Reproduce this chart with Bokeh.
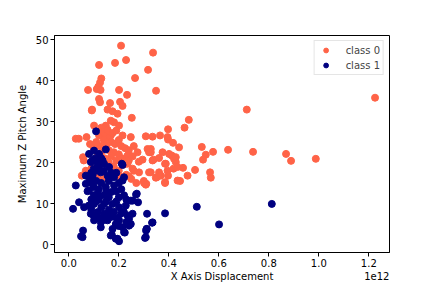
from bokeh.plotting import figure
from bokeh.models import Range1d, FixedTicker, CustomJSTickFormatter, LinearAxis, Legend, LegendItem
from bokeh.embed import file_html
from bokeh.resources import INLINE

X_SCALE = 1e12
X_TICKS = [0.0, 0.2, 0.4, 0.6, 0.8, 1.0, 1.2]
Y_TICKS = [0, 10, 20, 30, 40, 50]
LABELS = ["class 0", "class 1"]
X_LABEL = "X Axis Displacement"
Y_LABEL = "Maximum Z Pitch Angle"
OFFSET_TEXT = "1e12"

# class 0 (x in units of 1e12)
x0 = [0.209, 0.337, 0.121, 0.185, 0.229, 0.317, 0.265, 0.130, 0.125, 0.118, 0.112, 0.127, 0.077, 0.201, 0.349,
      0.233, 0.121, 0.125, 0.165, 0.205, 0.215, 0.155, 0.175, 0.093, 0.195, 0.252, 0.712, 0.480, 0.463, 0.397,
      0.335, 0.365, 0.395, 0.397, 0.417, 0.328, 0.328, 0.532, 0.637, 0.737, 0.869, 0.889, 0.577, 0.548, 0.537,
      0.339, 0.361, 0.385, 0.412, 0.421, 0.428, 0.419, 0.457, 0.505, 0.565, 0.568, 0.475, 0.445, 0.397, 0.385,
      0.348, 0.328, 1.225, 0.988,
      0.092, 0.181, 0.201, 0.148, 0.168, 0.101, 0.028, 0.040, 0.071, 0.121, 0.141, 0.168, 0.215, 0.248, 0.308,
      0.441, 0.275, 0.315, 0.321, 0.375, 0.401, 0.428, 0.295, 0.335, 0.388, 0.235, 0.235, 0.255, 0.281, 0.321,
      0.361, 0.395, 0.435,
      0.13, 0.14, 0.155, 0.16, 0.175, 0.19, 0.17, 0.185, 0.2, 0.21, 0.225, 0.14, 0.15, 0.125, 0.11, 0.16,
      0.18, 0.2, 0.215, 0.24, 0.26, 0.17, 0.19, 0.22, 0.24, 0.255, 0.13, 0.115, 0.1, 0.085, 0.145, 0.16,
      0.18, 0.2, 0.21, 0.23, 0.25, 0.1, 0.09, 0.08, 0.06, 0.11, 0.12, 0.26, 0.27, 0.3, 0.31, 0.28,
      0.057, 0.052, 0.068, 0.241, 0.201, 0.148, 0.301, 0.308, 0.352, 0.385, 0.435, 0.101, 0.368]
y0 = [48.5, 46.8, 43.8, 44.3, 45.0, 42.6, 40.6, 40.5, 39.5, 38.5, 37.9, 37.7, 37.7, 37.7, 37.5,
      36.5, 35.5, 34.7, 34.5, 34.8, 33.8, 32.9, 32.5, 32.9, 31.9, 30.9, 32.9, 30.4, 28.5, 28.1,
      26.3, 26.6, 26.2, 25.6, 24.8, 23.3, 22.5, 23.8, 23.1, 22.6, 22.1, 20.4, 22.6, 21.9, 20.7,
      20.7, 21.1, 19.7, 21.7, 20.9, 20.1, 18.5, 18.7, 18.2, 17.6, 16.3, 16.8, 15.5, 16.8, 15.2,
      16.3, 17.6, 35.8, 20.9,
      32.7, 29.8, 29.0, 29.0, 30.2, 29.0, 25.8, 25.8, 26.2, 26.6, 27.0, 26.6, 26.6, 26.2, 26.4,
      23.7, 22.5, 23.3, 22.5, 22.5, 22.1, 21.3, 20.7, 20.5, 19.7, 21.7, 19.7, 18.5, 17.6, 17.6,
      17.6, 18.0, 18.9,
      28.5, 27.5, 28.0, 26.0, 27.2, 27.8, 25.0, 24.5, 25.5, 24.0, 23.5, 25.5, 24.3, 24.0, 25.0, 23.0,
      22.5, 22.0, 21.0, 23.0, 24.0, 21.5, 20.5, 19.5, 20.5, 21.5, 22.5, 21.5, 23.5, 24.5, 21.0, 20.0,
      19.0, 18.0, 16.5, 17.0, 16.0, 20.5, 18.5, 16.5, 20.5, 17.5, 16.0, 18.0, 15.0, 15.5, 14.8, 20.2,
      21.3, 16.8, 18.0, 16.6, 16.4, 16.4, 15.0, 14.6, 16.4, 15.0, 15.6, 17.2, 16.8]

# class 1 (x in units of 1e12)
x1 = [0.109, 0.148, 0.215, 0.028, 0.017, 0.057, 0.049, 0.172, 0.188, 0.201, 0.224, 0.305, 0.311, 0.333, 0.313,
      0.385, 0.512, 0.601, 0.812, 0.269, 0.277, 0.248, 0.255, 0.241, 0.248,
      0.101, 0.121, 0.081, 0.088, 0.115, 0.135, 0.141, 0.161, 0.212, 0.221, 0.068, 0.095, 0.128, 0.155, 0.181,
      0.068, 0.081, 0.115, 0.148, 0.181, 0.215, 0.221, 0.255, 0.272, 0.235, 0.241, 0.215, 0.188, 0.155, 0.128,
      0.101, 0.088, 0.041, 0.061, 0.101, 0.141, 0.175, 0.201, 0.228, 0.208, 0.141, 0.115, 0.168, 0.128, 0.175,
      0.201, 0.055, 0.168, 0.195, 0.221, 0.335, 0.312, 0.308, 0.309,
      0.09, 0.1, 0.11, 0.12, 0.13, 0.14, 0.15, 0.16, 0.17, 0.19, 0.2, 0.21, 0.23, 0.09, 0.1, 0.11,
      0.12, 0.13, 0.15, 0.16, 0.18, 0.19, 0.22, 0.08, 0.09, 0.1, 0.12, 0.14, 0.16, 0.19, 0.2, 0.23,
      0.11, 0.12, 0.1, 0.13, 0.14, 0.16, 0.17, 0.19, 0.2, 0.105, 0.09, 0.075, 0.085, 0.095]
y1 = [27.6, 23.2, 19.4, 14.4, 8.7, 3.4, 2.0, 2.4, 1.4, 0.8, 2.9, 1.6, 3.8, 5.3, 7.5,
      7.6, 9.2, 4.9, 9.9, 12.2, 10.3, 10.7, 7.5, 6.3, 5.0,
      22.9, 22.1, 22.1, 20.1, 19.7, 20.5, 19.7, 18.9, 19.7, 16.4, 16.8, 16.8, 17.6, 16.8, 16.4,
      14.8, 13.2, 12.4, 14.0, 14.4, 15.6, 12.0, 10.7, 12.4, 7.1, 4.6, 4.2, 5.0, 5.9, 5.4,
      5.9, 7.5, 10.3, 9.1, 9.9, 9.9, 9.9, 9.1, 9.5, 7.5, 7.5, 7.9, 6.7, 4.2, 3.8,
      5.9, 1.8, 2.2, 1.4, 3.0, 5.4, 3.8, 1.8, 3.4,
      15.0, 14.0, 15.5, 13.5, 15.0, 12.0, 13.0, 11.5, 12.8, 13.0, 11.5, 13.5, 11.0, 11.0, 12.0, 10.5,
      11.0, 9.0, 10.5, 8.5, 8.0, 10.5, 8.0, 9.5, 8.5, 7.0, 6.5, 6.0, 7.0, 6.5, 4.5, 5.5,
      18.0, 19.0, 18.5, 21.0, 18.0, 15.5, 17.5, 17.5, 15.0, 21.0, 17.5, 13.0, 16.0, 20.5]

COLORS = ["#ff6347", "#000080"]
FONT = "DejaVu Sans"
X_MIN, X_MAX = -0.0572, 1.2828

p = figure(frame_width=335, frame_height=217, output_backend="svg", toolbar_location=None,
           min_border_left=54, min_border_right=43, min_border_top=35, min_border_bottom=36,
           x_range=Range1d(X_MIN * X_SCALE, X_MAX * X_SCALE), y_range=Range1d(-1.95, 50.98))
p.background_fill_color = "white"
p.border_fill_color = "white"
p.grid.visible = False
p.outline_line_color = "black"
p.outline_line_width = 1
p.outline_line_alpha = 1

r0 = p.scatter([v * X_SCALE for v in x0], y0, size=7, color=COLORS[0], line_color=COLORS[0])
r1 = p.scatter([v * X_SCALE for v in x1], y1, size=7, color=COLORS[1], line_color=COLORS[1])

p.xaxis.ticker = FixedTicker(ticks=[t * X_SCALE for t in X_TICKS])
p.xaxis.formatter = CustomJSTickFormatter(code="return (tick/1e12).toFixed(1);")
p.yaxis.ticker = FixedTicker(ticks=Y_TICKS)

for ax in (p.xaxis[0], p.yaxis[0]):
    ax.major_tick_in = 0
    ax.major_tick_out = 4
    ax.minor_tick_line_color = None
    ax.axis_line_color = "black"
    ax.major_tick_line_color = "black"
    ax.major_label_text_font = FONT
    ax.major_label_text_font_size = "10px"
    ax.major_label_text_color = "#000000"
    ax.major_label_standoff = 2
    ax.axis_label_text_font = FONT
    ax.axis_label_text_font_size = "10px"
    ax.axis_label_text_font_style = "normal"
    ax.axis_label_text_color = "#000000"
    ax.axis_label_standoff = 5

p.yaxis.axis_label = Y_LABEL

# second row below the x axis: centred axis title and the right-hand offset text "1e12"
label_axis = LinearAxis(ticker=FixedTicker(ticks=[0.6128 * X_SCALE, 1.232 * X_SCALE]),
                        formatter=CustomJSTickFormatter(
                            args=dict(a=X_LABEL, b=OFFSET_TEXT),
                            code="return tick < 1e12 ? a : b;"))
label_axis.axis_line_color = None
label_axis.major_tick_line_color = None
label_axis.minor_tick_line_color = None
label_axis.major_tick_out = 0
label_axis.major_tick_in = 0
label_axis.major_label_standoff = 1
label_axis.major_label_text_font = FONT
label_axis.major_label_text_font_size = "10px"
label_axis.major_label_text_color = "#000000"
p.add_layout(label_axis, "below")

legend = Legend(items=[LegendItem(label=LABELS[0], renderers=[r0]),
                       LegendItem(label=LABELS[1], renderers=[r1])],
                location="top_right")
legend.margin = 5
legend.padding = 3
legend.spacing = 3
legend.glyph_width = 16
legend.glyph_height = 12
legend.label_height = 12
legend.label_standoff = 12
legend.label_text_font = FONT
legend.label_text_font_size = "10px"
legend.border_line_color = "#cccccc"
legend.background_fill_alpha = 0.8
p.add_layout(legend)

open("out.html", "w").write(file_html(p, INLINE))
